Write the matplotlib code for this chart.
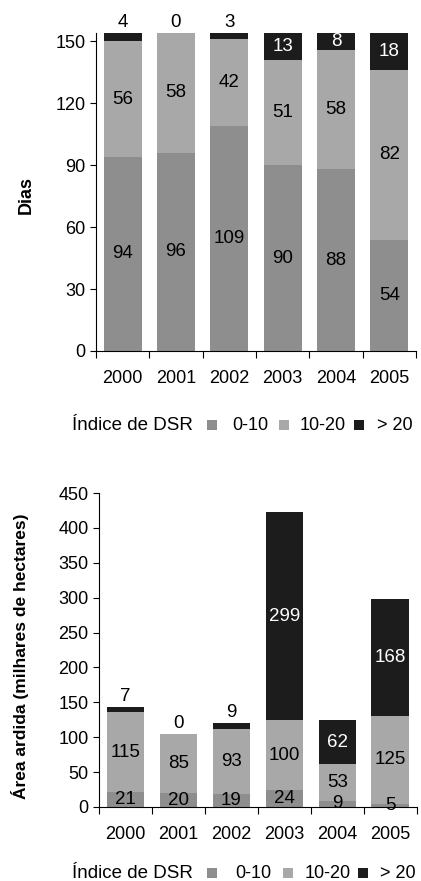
import matplotlib.pyplot as plt
from matplotlib.patches import Rectangle

plt.rcParams['font.family'] = ['Liberation Sans', 'DejaVu Sans']

years = ['2000', '2001', '2002', '2003', '2004', '2005']
legend_labels = ['0-10', '10-20', '> 20']

# dias por classe de DSR
dias_baixo = [94, 96, 109, 90, 88, 54]
dias_medio = [56, 58, 42, 51, 58, 82]
dias_alto = [4, 0, 3, 13, 8, 18]

# area ardida (milhares de hectares) por classe de DSR
area_baixo = [21, 20, 19, 24, 9, 5]
area_medio = [115, 85, 93, 100, 53, 125]
area_alto = [7, 0, 9, 299, 62, 168]

cores = ['#8e8e8e', '#a8a8a8', '#1c1c1c']
txt_cores = ['black', 'black', 'white']

W, H = 421, 881


def stacked(ax, series, ymax, yticks, ylabel, small_thr):
    x = list(range(len(years)))
    bottom = [0] * len(years)
    for k, vals in enumerate(series):
        ax.bar(x, vals, 0.71, bottom=bottom, color=cores[k], edgecolor='none')
        for i, v in enumerate(vals):
            if k == 2 and v < small_thr:
                ax.text(i, bottom[i] + v + ymax * 0.006, str(v), ha='center', va='bottom',
                        fontsize=13.5, color='black', clip_on=False)
            else:
                ax.text(i, bottom[i] + v / 2, str(v), ha='center', va='center',
                        fontsize=13.5, color=txt_cores[k])
        bottom = [b + v for b, v in zip(bottom, vals)]
    ax.set_xlim(-0.5, len(years) - 0.5)
    ax.set_ylim(0, ymax)
    ax.set_yticks(yticks)
    ax.set_xticks(x)
    ax.set_xticklabels(years, fontsize=13)
    ax.set_xticks([i - 0.5 for i in range(len(years) + 1)], minor=True)
    ax.tick_params(axis='x', which='major', length=0, pad=14)
    ax.tick_params(axis='x', which='minor', length=5, width=0.8)
    ax.tick_params(axis='y', length=4, width=0.8, labelsize=13)
    ax.spines['top'].set_visible(False)
    ax.spines['right'].set_visible(False)
    ax.set_ylabel(ylabel, fontweight='bold')


def legenda(fig, y, sq_x, txt_x):
    yf = 1 - y / H
    fig.text(72 / W, yf, 'Índice de DSR', fontsize=13.5, va='center', ha='left')
    s = 10
    for c, lab, sx, tx in zip(cores, legend_labels, sq_x, txt_x):
        fig.patches.append(Rectangle(((sx - s / 2) / W, yf - s / 2 / H), s / W, s / H,
                                     transform=fig.transFigure, facecolor=c,
                                     edgecolor='none'))
        fig.text(tx / W, yf, lab, fontsize=13, va='center', ha='left')


fig = plt.figure(figsize=(W / 100, H / 100), dpi=100)

ax1 = fig.add_axes([0.228, 0.6016, 0.760, 0.3609])
stacked(ax1, [dias_baixo, dias_medio, dias_alto], 154, [0, 30, 60, 90, 120, 150], 'Dias', 5)
ax1.yaxis.label.set_fontsize(13)
ax1.yaxis.set_label_coords(-0.19, 0.49)
legenda(fig, 425, [212, 284, 359], [232, 300, 377])

ax2 = fig.add_axes([0.235, 0.084, 0.755, 0.3564])
stacked(ax2, [area_baixo, area_medio, area_alto], 450, list(range(0, 451, 50)),
        'Área ardida (milhares de hectares)', 20)
ax2.yaxis.label.set_fontsize(12.5)
ax2.yaxis.set_label_coords(-0.22, 0.48)
legenda(fig, 873, [212, 288, 363], [235, 305, 380])

fig.savefig('out.png', dpi=100)
